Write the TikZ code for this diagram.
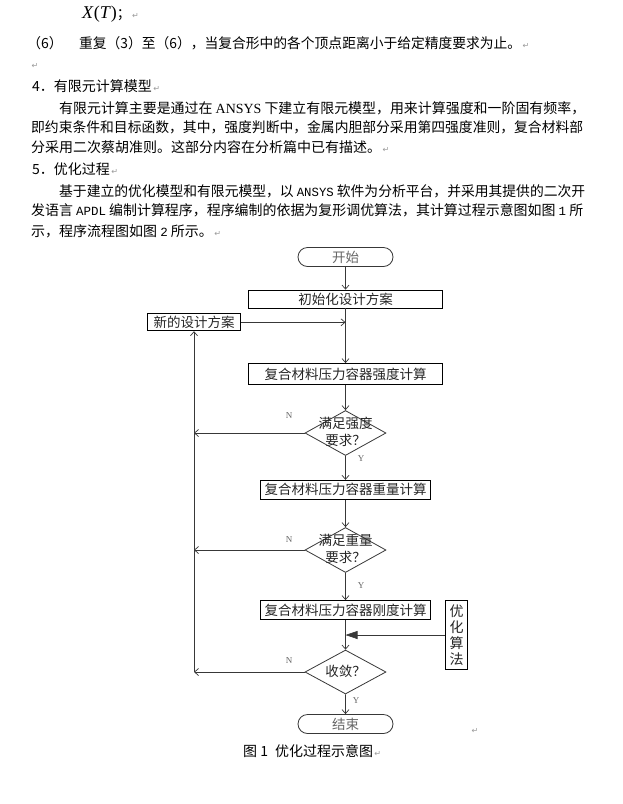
\documentclass[tikz,border=0pt]{standalone}
\usepackage{fontspec}
\usepackage{graphicx}
\setmainfont{Liberation Serif}
\newfontfamily\cjk{Noto Sans CJK SC}
\newfontfamily\mono{Liberation Mono}
\newfontfamily\dvs{DejaVu Sans}
\usetikzlibrary{shapes.geometric,shapes.misc,arrows.meta}
\definecolor{lc}{gray}{0.22}
\definecolor{pm}{gray}{0.6}
\definecolor{tg}{gray}{0.4}
\newcommand\pmark{{\dvs\fontsize{8}{8}\selectfont\color{pm}\,↵}}
\newcommand\bodyf{\cjk\fontsize{14}{16}\selectfont}
\newcommand\flowf{\cjk\fontsize{13.5}{17}\selectfont}
\newcommand\ms[1]{{\mono\fontsize{12.5}{12}\selectfont #1}}
\begin{document}
\begin{tikzpicture}[x=1pt,y=-1pt,
  txt/.style={anchor=base west, inner sep=0pt, font=\bodyf, text=black},
  term/.style={rounded rectangle, draw=lc, line width=0.8pt, minimum width=95pt, minimum height=19pt, inner sep=0pt, font=\flowf, text=tg},
  proc/.style={rectangle, draw=black, line width=0.8pt, inner sep=0pt, font=\flowf, text=black!85},
  dec/.style={diamond, draw=lc, line width=0.8pt, minimum width=81pt, minimum height=45pt, inner sep=0pt},
  dtext/.style={inner sep=0pt, align=center, font=\flowf, text=black!85},
  lab/.style={inner sep=0pt, font=\fontsize{9}{9}\selectfont, text=tg},
  arr/.style={draw=lc, line width=0.7pt, -{Straight Barb[length=4pt,width=7pt]}},
  ln/.style={draw=lc, line width=0.7pt}]
\fill[white] (0,0) rectangle (623,804);
\useasboundingbox (0,0) rectangle (623,804);

% ---- body text ----
\node[txt] (t0) at (82,18) {{\rmfamily\fontsize{18}{18}\selectfont\textit{X}(\textit{T})}；\pmark};
\node[txt] (t1a) at (27,48) {（6）};
\node[txt] (t1b) at (79,48) {\resizebox{442pt}{\height}{重复（3）至（6），当复合形中的各个顶点距离小于给定精度要求为止。}\pmark};
\node[txt] (t2) at (30,68) {\pmark};
\node[txt] (t3) at (32,91) {4．有限元计算模型\pmark};
\node[txt] (t4) at (59,113) {\resizebox{526pt}{\height}{有限元计算主要是通过在 {\rmfamily ANSYS} 下建立有限元模型，用来计算强度和一阶固有频率，}};
\node[txt] (t5) at (31,132) {\resizebox{552pt}{\height}{即约束条件和目标函数，其中，强度判断中，金属内胆部分采用第四强度准则，复合材料部}};
\node[txt] (t6) at (31,152) {分采用二次蔡胡准则。这部分内容在分析篇中已有描述。\pmark};
\node[txt] (t7) at (32,174) {5．优化过程\pmark};
\node[txt] (t8) at (59,196) {\resizebox{526pt}{\height}{基于建立的优化模型和有限元模型，以 \ms{ANSYS} 软件为分析平台，并采用其提供的二次开}};
\node[txt] (t9) at (31,215) {\resizebox{552pt}{\height}{发语言 \ms{APDL} 编制计算程序，程序编制的依据为复形调优算法，其计算过程示意图如图 \ms{1} 所}};
\node[txt] (t10) at (31,236) {示，程序流程图如图 \ms{2} 所示。\pmark};

% ---- flowchart ----
\node[term] (start) at (345.5,257) {开始};
\node[proc, minimum width=194pt, minimum height=18pt] (init) at (345.5,299) {初始化设计方案};
\node[proc, minimum width=93pt, minimum height=17pt] (new) at (194,322.3) {新的设计方案};
\node[proc, minimum width=194pt, minimum height=21pt] (strength) at (345.5,374) {复合材料压力容器强度计算};
\node[dec] (d1) at (345.5,433) {};
\node[dtext] (d1t) at (345.5,432) {满足强度\\要求？};
\node[proc, minimum width=170pt, minimum height=19pt] (weight) at (345.5,489.7) {复合材料压力容器重量计算};
\node[dec] (d2) at (345.5,550) {};
\node[dtext] (d2t) at (345.5,549) {满足重量\\要求？};
\node[proc, minimum width=170pt, minimum height=19pt] (stiff) at (345.5,610) {复合材料压力容器刚度计算};
\node[proc, minimum width=22pt, minimum height=69pt, align=center, font=\cjk\fontsize{14}{16}\selectfont] (algo) at (456.5,635) {优\\化\\算\\法};
\node[dec, minimum height=44pt] (d3) at (345.5,672) {};
\node[dtext] (d3t) at (345.5,671) {收敛？};
\node[term] (end) at (345.5,724) {结束};

\node[lab] (n1) at (289,416) {N};
\node[lab] (n2) at (289,540) {N};
\node[lab] (n3) at (289,661) {N};
\node[lab] (y1) at (361,459) {Y};
\node[lab] (y2) at (361,586) {Y};
\node[lab] (y3) at (356,701) {Y};

\draw[arr] (start) -- (init);
\draw[arr] (init) -- (strength);
\draw[arr] (new.east) -- (new.east -| init.south);
\draw[arr] (strength) -- (d1.north);
\draw[arr] (d1.south) -- (weight);
\draw[arr] (weight) -- (d2.north);
\draw[arr] (d2.south) -- (stiff);
\draw[arr] (stiff) -- (d3.north);
\draw[draw=lc, line width=0.7pt, -{Triangle[length=12pt,width=8pt]}] (algo.west) -- (algo.west -| stiff.south);
\draw[arr] (d3.south) -- (end);
\draw[arr] (d1.west) -- (d1.west -| new.south);
\draw[arr] (d2.west) -- (d2.west -| new.south);
\draw[arr] (d3.west) -- (d3.west -| new.south);
\draw[arr] (d3.west -| new.south) -- (new.south);

\node[txt] (pm1) at (470,733) {\pmark};
\node[txt] (cap) at (243,756) {图 1\hspace{7pt}优化过程示意图\pmark};
\end{tikzpicture}
\end{document}
